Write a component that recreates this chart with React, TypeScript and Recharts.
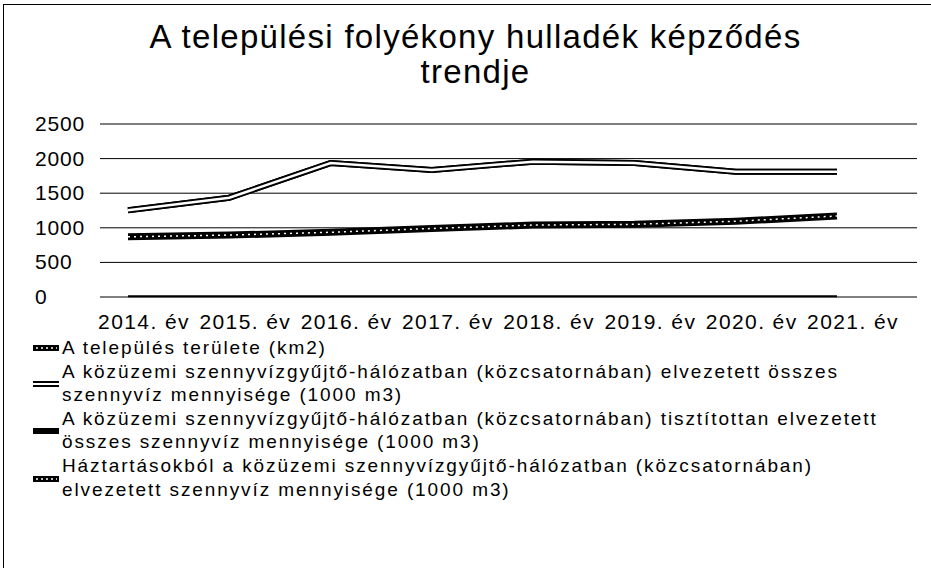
import React from 'react';
import { LineChart, Line, XAxis, YAxis, CartesianGrid } from 'recharts';

const years = ['2014. év', '2015. év', '2016. év', '2017. év', '2018. év', '2019. év', '2020. év', '2021. év'];
const areaKm2 = [12, 12, 12, 12, 12, 12, 12, 12];
const totalWaste = [1255, 1435, 1935, 1835, 1955, 1935, 1810, 1810];
const treatedWaste = [1255, 1435, 1935, 1835, 1955, 1935, 1810, 1810];
const householdWaste = [870, 895, 935, 990, 1040, 1050, 1095, 1170];
const yTicks = [0, 500, 1000, 1500, 2000, 2500];

const titleLines = ['A települési folyékony hulladék képződés', 'trendje'];
const legendItems = [
  { key: 'area', lines: ['A település területe (km2)'], style: 'dotted' },
  { key: 'total', lines: ['A közüzemi szennyvízgyűjtő-hálózatban (közcsatornában) elvezetett összes', 'szennyvíz mennyisége (1000 m3)'], style: 'outline' },
  { key: 'treated', lines: ['A közüzemi szennyvízgyűjtő-hálózatban (közcsatornában) tisztítottan elvezetett', 'összes szennyvíz mennyisége (1000 m3)'], style: 'solid' },
  { key: 'household', lines: ['Háztartásokból a közüzemi szennyvízgyűjtő-hálózatban (közcsatornában)', 'elvezetett szennyvíz mennyisége (1000 m3)'], style: 'dotted' },
];

const data = years.map((y, i) => ({
  year: y,
  area: areaKm2[i],
  total: totalWaste[i],
  treated: treatedWaste[i],
  household: householdWaste[i],
}));

const FONT = '"Liberation Sans", Arial, sans-serif';

const XTick = (props: any) => {
  const { x, y, payload } = props;
  return (
    <text x={x + 16} y={y} dy={32} textAnchor="middle" fontSize={21} fontFamily={FONT} fill="#000" letterSpacing={1.4}>
      {payload.value}
    </text>
  );
};

const YTick = (props: any) => {
  const { y, payload } = props;
  return (
    <text x={35} y={y} dy={7} textAnchor="start" fontSize={21} fontFamily={FONT} fill="#000" letterSpacing={0.8}>
      {payload.value}
    </text>
  );
};

const Marker = ({ kind }: { kind: string }) => (
  <svg width={26} height={8} style={{ display: 'block' }}>
    {kind === 'outline' ? (
      <>
        <line x1={0} y1={4} x2={26} y2={4} stroke="#000" strokeWidth={6} />
        <line x1={0} y1={4} x2={26} y2={4} stroke="#fff" strokeWidth={2} />
      </>
    ) : kind === 'solid' ? (
      <line x1={0} y1={4} x2={26} y2={4} stroke="#000" strokeWidth={6} />
    ) : (
      <>
        <line x1={0} y1={4} x2={26} y2={4} stroke="#000" strokeWidth={6} />
        <line x1={3} y1={4} x2={24} y2={4} stroke="#fff" strokeWidth={1.5} strokeDasharray="2 3" />
      </>
    )}
  </svg>
);

const LINE_H = 23.6;
const LEGEND_TOP = 336;
const LEGEND_TEXT_X = 62;

export default function App() {
  let lineIndex = 0;
  const legendRows: React.ReactNode[] = [];
  legendItems.forEach((item) => {
    const first = lineIndex;
    item.lines.forEach((t, j) => {
      legendRows.push(
        <div key={item.key + j} style={{ position: 'absolute', left: LEGEND_TEXT_X, top: LEGEND_TOP + lineIndex * LINE_H, height: LINE_H, lineHeight: LINE_H + 'px', whiteSpace: 'nowrap' }}>
          {t}
        </div>
      );
      lineIndex++;
    });
    const markerCenter = LEGEND_TOP + (item.lines.length === 1 ? first * LINE_H + LINE_H / 2 : (first + 1) * LINE_H + 1);
    legendRows.push(
      <div key={item.key + 'm'} style={{ position: 'absolute', left: LEGEND_TEXT_X - 29, top: markerCenter - 4 }}>
        <Marker kind={item.style} />
      </div>
    );
  });

  return (
    <div style={{ position: 'absolute', left: 0, top: 0, width: 931, height: 568, background: '#fff', overflow: 'hidden', fontFamily: FONT, color: '#000' }}>
      <div style={{ position: 'absolute', left: 3, top: 4, width: 928, height: 564, borderTop: '1px solid #000', borderLeft: '1px solid #000' }} />
      <div style={{ position: 'absolute', left: 20, top: 19, width: 911, textAlign: 'center', fontSize: 33, lineHeight: '35px', letterSpacing: 1.3 }}>
        {titleLines.map((t) => (
          <div key={t}>{t}</div>
        ))}
      </div>
      <div style={{ position: 'absolute', left: 0, top: 0 }}>
        <LineChart width={931} height={568} data={data} margin={{ top: 124, right: 14, left: 0, bottom: 241 }}>
          <CartesianGrid horizontal vertical={false} stroke="#000" strokeWidth={1} />
          <XAxis dataKey="year" axisLine={false} tickLine={false} tickSize={0} tickMargin={0} height={30} tick={<XTick />} interval={0} padding={{ left: 28, right: 80 }} />
          <YAxis domain={[0, 2500]} ticks={yTicks} axisLine={false} tickLine={false} width={100} tick={<YTick />} />
          <Line dataKey="area" stroke="#000" strokeWidth={2} dot={false} isAnimationActive={false} />
          <Line dataKey="treated" stroke="#000" strokeWidth={6} dot={false} isAnimationActive={false} />
          <Line dataKey="total" stroke="#000" strokeWidth={6} dot={false} isAnimationActive={false} />
          <Line dataKey="total" stroke="#fff" strokeWidth={2.5} dot={false} isAnimationActive={false} legendType="none" />
          <Line dataKey="household" stroke="#000" strokeWidth={7} dot={false} isAnimationActive={false} />
          <Line dataKey="household" stroke="#fff" strokeWidth={1.5} strokeDasharray="2 4" dot={false} isAnimationActive={false} legendType="none" />
        </LineChart>
      </div>
      <div style={{ position: 'absolute', left: 0, top: 0, fontSize: 19, letterSpacing: 1.9 }}>
        {legendRows}
      </div>
    </div>
  );
}
